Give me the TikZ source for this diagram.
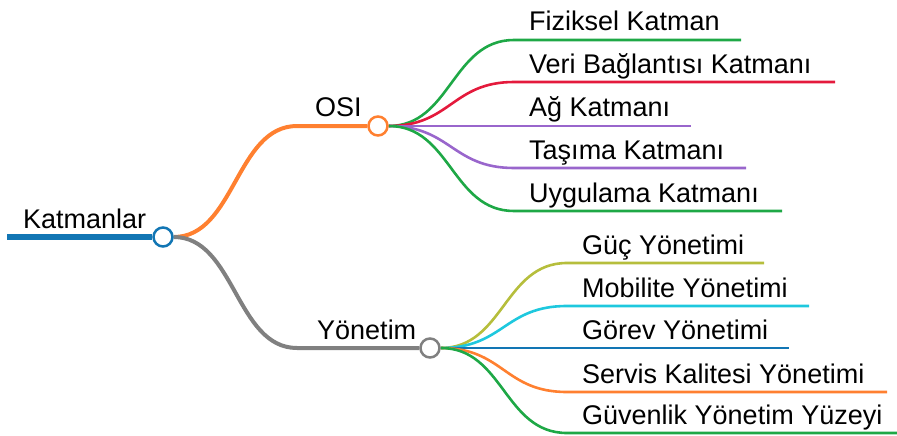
\documentclass[tikz,border=0pt]{standalone}
\usepackage{fontspec}
\setmainfont{Liberation Sans}
\usetikzlibrary{backgrounds,calc}
\definecolor{cblue}{RGB}{18,118,180}
\definecolor{corange}{RGB}{255,128,48}
\definecolor{cgray}{RGB}{128,128,128}
\definecolor{cgreen}{RGB}{30,168,70}
\definecolor{cred}{RGB}{228,26,60}
\definecolor{cpurple}{RGB}{153,102,204}
\definecolor{colive}{RGB}{182,190,60}
\definecolor{ccyan}{RGB}{30,200,222}
\begin{document}
\begin{tikzpicture}[x=1pt,y=-1pt,
  hub/.style={circle,draw,fill=white,line width=2.5pt,minimum size=19pt,inner sep=0pt},
  lbl/.style={anchor=base west,inner sep=0pt,font=\fontsize{27}{30}\selectfont},
  branch/.style={to path={.. controls ([xshift=#1]\tikztostart) and ([xshift=-#1]\tikztotarget) .. (\tikztotarget)}},
  trunk/.style={line width=4pt},
  twig/.style={line width=2.6pt}]
\useasboundingbox (0,0) rectangle (897,436);

% hubs
\node[hub,draw=cblue] (root) at (163,237) {};
\node[hub,draw=corange] (osi) at (378,126) {};
\node[hub,draw=cgray] (yon) at (430,348) {};

% labels
\node[lbl] (troot) at (23,228) {Katmanlar};
\node[lbl] (tosi) at (315,116) {OSI};
\node[lbl] (tyon) at (317,339) {Yönetim};

\node[lbl] (o1) at (529,31) {Fiziksel Katman};
\node[lbl] (o2) at (529,74) {Veri Bağlantısı Katmanı};
\node[lbl] (o3) at (529,117) {Ağ Katmanı};
\node[lbl] (o4) at (529,159) {Taşıma Katmanı};
\node[lbl] (o5) at (529,202) {Uygulama Katmanı};

\node[lbl] (y1) at (582,254) {Güç Yönetimi};
\node[lbl] (y2) at (582,297) {Mobilite Yönetimi};
\node[lbl] (y3) at (582,339) {Görev Yönetimi};
\node[lbl] (y4) at (582,383) {Servis Kalitesi Yönetimi};
\node[lbl] (y5) at (582,424) {Güvenlik Yönetim Yüzeyi};

% connector points
\coordinate (r0) at (7,237);
\coordinate (osiS) at (297,126);
\coordinate (yonS) at (297,348);

\coordinate (o1s) at (514,40);  \coordinate (o1e) at (741,40);
\coordinate (o2s) at (514,82);  \coordinate (o2e) at (835,82);
\coordinate (o3s) at (514,126); \coordinate (o3e) at (691,126);
\coordinate (o4s) at (514,168); \coordinate (o4e) at (746,168);
\coordinate (o5s) at (514,211); \coordinate (o5e) at (782,211);

\coordinate (y1s) at (567,263); \coordinate (y1e) at (764,263);
\coordinate (y2s) at (567,306); \coordinate (y2e) at (809,306);
\coordinate (y3s) at (567,348); \coordinate (y3e) at (789,348);
\coordinate (y4s) at (567,392); \coordinate (y4e) at (887,392);
\coordinate (y5s) at (567,433); \coordinate (y5e) at (897,433);

\begin{scope}[on background layer]
  \draw[cblue,line width=6pt] (r0) -- (root.west);
  \draw[corange,trunk] (root.east) to[branch=61pt] (osiS) -- (osi.west);
  \draw[cgray,trunk] (root.east) to[branch=61pt] (yonS) -- (yon.west);

  \draw[cgreen,twig]  (osi.east) to[branch=62pt] (o1s) -- (o1e);
  \draw[cred,twig]    (osi.east) to[branch=62pt] (o2s) -- (o2e);
  \draw[cpurple,twig] (osi.east) to[branch=62pt] (o3s) -- (o3e);
  \draw[cpurple,twig] (osi.east) to[branch=62pt] (o4s) -- (o4e);
  \draw[cgreen,twig]  (osi.east) to[branch=62pt] (o5s) -- (o5e);

  \draw[colive,twig]  (yon.east) to[branch=63pt] (y1s) -- (y1e);
  \draw[ccyan,twig]   (yon.east) to[branch=63pt] (y2s) -- (y2e);
  \draw[cblue,twig]   (yon.east) to[branch=63pt] (y3s) -- (y3e);
  \draw[corange,twig] (yon.east) to[branch=63pt] (y4s) -- (y4e);
  \draw[cgreen,twig]  (yon.east) to[branch=63pt] (y5s) -- (y5e);
\end{scope}
\end{tikzpicture}
\end{document}
